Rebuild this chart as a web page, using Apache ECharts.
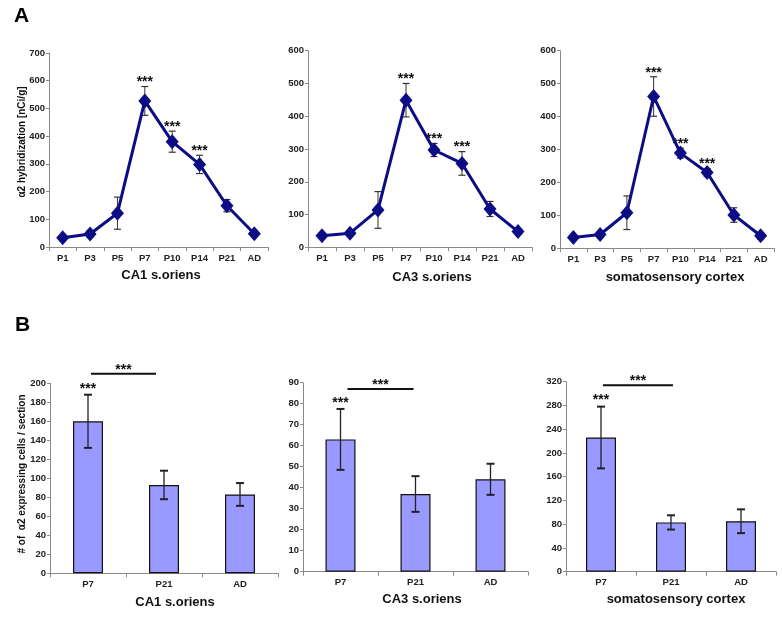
<!DOCTYPE html>
<html><head><meta charset="utf-8">
<script src="https://cdn.jsdelivr.net/npm/echarts@6/dist/echarts.min.js"></script>
<style>html,body{margin:0;padding:0;background:#fff}#c{width:782px;height:617px}</style>
</head><body><div id="c"></div>
<script>
// ---- Panel A data (alpha2 hybridization, nCi/g) ----
const ageCats = ['P1','P3','P5','P7','P10','P14','P21','AD'];
const ca1Hyb = [33, 47, 122, 527, 380, 298, 149, 48];
const ca1HybErr = [10, 12, 58, 52, 38, 33, 22, 10];
const ca3Hyb = [35, 43, 114, 449, 297, 256, 117, 48];
const ca3HybErr = [8, 8, 56, 51, 20, 36, 23, 8];
const ssHyb = [33, 42, 108, 461, 289, 230, 101, 38];
const ssHybErr = [8, 8, 51, 60, 15, 12, 22, 10];
const hybStars = ['', '', '', '***', '***', '***', '', ''];
const hybTicks = {ca1: [0, 700, 100], ca3: [0, 600, 100], ss: [0, 600, 100]};

// ---- Panel B data (alpha2 expressing cells / section) ----
const cellCats = ['P7','P21','AD'];
const ca1Cells = [160, 93, 83];
const ca1CellsErr = [28, 15, 12];
const ca3Cells = [63, 37, 44];
const ca3CellsErr = [14.5, 8.5, 7.4];
const ssCells = [226, 83, 85];
const ssCellsErr = [52, 12, 20];
const cellStars = ['***', '', ''];
const cellTicks = {ca1: [0, 200, 20], ca3: [0, 90, 10], ss: [0, 320, 40]};
const bracketPair = [0, 1];
const bracketText = '***';

const FONT = 'Liberation Sans, Arial, sans-serif';
const NAVY = '#0c0c84';

const grids = [
  {left: 49, top: 53, width: 219, height: 194},
  {left: 308, top: 50.7, width: 224, height: 196.6},
  {left: 560, top: 50.7, width: 214, height: 197.6},
  {left: 50, top: 383.3, width: 228, height: 190},
  {left: 303, top: 382.7, width: 225, height: 189},
  {left: 566, top: 381.7, width: 210, height: 190}
];

function xAx(gi, cats) {
  return {
    type: 'category', gridIndex: gi, data: cats, boundaryGap: true,
    axisLine: {lineStyle: {color: '#8a8a8a', width: 1}},
    axisTick: {show: true, length: 4, lineStyle: {color: '#8a8a8a'}},
    axisLabel: {fontFamily: FONT, fontWeight: 'bold', fontSize: 9.5, color: '#222', margin: 6}
  };
}
function yAx(gi, t) {
  return {
    type: 'value', gridIndex: gi, min: t[0], max: t[1], interval: t[2],
    splitLine: {show: false},
    axisLine: {show: true, lineStyle: {color: '#8a8a8a', width: 1}},
    axisTick: {show: true, length: 3, lineStyle: {color: '#8a8a8a'}},
    axisLabel: {fontFamily: FONT, fontWeight: 'bold', fontSize: 9.5, color: '#222', margin: 4}
  };
}

function errSeries(gi, vals, errs, stars, opt) {
  return {
    type: 'custom', xAxisIndex: gi, yAxisIndex: gi, z: opt.z, silent: true,
    data: vals.map((v, i) => [i, v - errs[i], v + errs[i]]),
    renderItem: function (params, api) {
      const lo = api.coord([api.value(0), api.value(1)]);
      const hi = api.coord([api.value(0), api.value(2)]);
      const h = opt.cap / 2;
      const st = {stroke: opt.color, lineWidth: opt.lw};
      const ch = [
        {type: 'line', shape: {x1: lo[0], y1: lo[1], x2: hi[0], y2: hi[1]}, style: st},
        {type: 'line', shape: {x1: hi[0] - h, y1: hi[1], x2: hi[0] + h, y2: hi[1]}, style: {stroke: opt.color, lineWidth: opt.capLw}},
        {type: 'line', shape: {x1: lo[0] - h, y1: lo[1], x2: lo[0] + h, y2: lo[1]}, style: {stroke: opt.color, lineWidth: opt.capLw}}
      ];
      const s = stars[params.dataIndex];
      if (s) {
        ch.push({type: 'text', style: {text: s, x: hi[0], y: hi[1] + opt.starGap, align: 'center', verticalAlign: 'bottom',
          font: 'bold 14px ' + FONT, fill: '#111'}});
      }
      return {type: 'group', children: ch};
    }
  };
}

function bracketSeries(gi, level, dx1, dx2) {
  return {
    type: 'custom', xAxisIndex: gi, yAxisIndex: gi, z: 5, silent: true,
    data: [[bracketPair[0], bracketPair[1], level]],
    renderItem: function (params, api) {
      const a = api.coord([api.value(0), api.value(2)]);
      const b = api.coord([api.value(1), api.value(2)]);
      const x1 = a[0] + dx1, x2 = b[0] + dx2;
      return {type: 'group', children: [
        {type: 'line', shape: {x1: x1, y1: a[1], x2: x2, y2: a[1]}, style: {stroke: '#111', lineWidth: 2}},
        {type: 'text', style: {text: bracketText, x: (x1 + x2) / 2, y: a[1] + 3, align: 'center', verticalAlign: 'bottom',
          font: 'bold 14px ' + FONT, fill: '#111'}}
      ]};
    }
  };
}

function lineSeries(gi, vals) {
  return {
    type: 'line', xAxisIndex: gi, yAxisIndex: gi, data: vals, z: 3,
    symbol: 'diamond', symbolSize: [13, 15],
    lineStyle: {color: NAVY, width: 3}, itemStyle: {color: NAVY},
    animation: false
  };
}
function barSeries(gi, vals) {
  return {
    type: 'bar', xAxisIndex: gi, yAxisIndex: gi, data: vals, barWidth: 30, z: 2,
    itemStyle: {color: '#9999ff', borderColor: '#111', borderWidth: 1.2},
    animation: false
  };
}

const lineErr = {color: '#333', lw: 1, capLw: 1.2, cap: 7, z: 2, starGap: 3};
const barErr = {color: '#222', lw: 1.3, capLw: 2, cap: 8, z: 4, starGap: 1};

const option = {
  backgroundColor: '#fff',
  animation: false,
  grid: grids,
  xAxis: [xAx(0, ageCats), xAx(1, ageCats), xAx(2, ageCats), xAx(3, cellCats), xAx(4, cellCats), xAx(5, cellCats)],
  yAxis: [yAx(0, hybTicks.ca1), yAx(1, hybTicks.ca3), yAx(2, hybTicks.ss), yAx(3, cellTicks.ca1), yAx(4, cellTicks.ca3), yAx(5, cellTicks.ss)],
  series: [
    errSeries(0, ca1Hyb, ca1HybErr, hybStars, lineErr), lineSeries(0, ca1Hyb),
    errSeries(1, ca3Hyb, ca3HybErr, hybStars, lineErr), lineSeries(1, ca3Hyb),
    errSeries(2, ssHyb, ssHybErr, hybStars, lineErr), lineSeries(2, ssHyb),
    barSeries(3, ca1Cells), errSeries(3, ca1Cells, ca1CellsErr, cellStars, barErr), bracketSeries(3, 210, 3, -8),
    barSeries(4, ca3Cells), errSeries(4, ca3Cells, ca3CellsErr, cellStars, barErr), bracketSeries(4, 87, 7, -2),
    barSeries(5, ssCells), errSeries(5, ssCells, ssCellsErr, cellStars, barErr), bracketSeries(5, 314, 2, 2)
  ],
  graphic: [
    {type: 'text', left: 14, top: 6, style: {text: 'A', font: 'bold 21px ' + FONT, fill: '#000'}},
    {type: 'text', left: 15, top: 315, style: {text: 'B', font: 'bold 21px ' + FONT, fill: '#000'}},
    {type: 'text', x: 22, y: 142, rotation: Math.PI / 2, style: {text: 'α2 hybridization [nCi/g]', align: 'center', verticalAlign: 'middle', font: 'bold 10px ' + FONT, fill: '#111'}},
    {type: 'text', x: 22, y: 474, rotation: Math.PI / 2, style: {text: '# of  α2 expressing cells / section', align: 'center', verticalAlign: 'middle', font: 'bold 10px ' + FONT, fill: '#111'}},
    {type: 'text', x: 161, y: 275, style: {text: 'CA1 s.oriens', align: 'center', verticalAlign: 'middle', font: 'bold 13px ' + FONT, fill: '#111'}},
    {type: 'text', x: 432, y: 277, style: {text: 'CA3 s.oriens', align: 'center', verticalAlign: 'middle', font: 'bold 13px ' + FONT, fill: '#111'}},
    {type: 'text', x: 675, y: 277, style: {text: 'somatosensory cortex', align: 'center', verticalAlign: 'middle', font: 'bold 13px ' + FONT, fill: '#111'}},
    {type: 'text', x: 175, y: 602, style: {text: 'CA1 s.oriens', align: 'center', verticalAlign: 'middle', font: 'bold 13px ' + FONT, fill: '#111'}},
    {type: 'text', x: 422, y: 599, style: {text: 'CA3 s.oriens', align: 'center', verticalAlign: 'middle', font: 'bold 13px ' + FONT, fill: '#111'}},
    {type: 'text', x: 676, y: 599, style: {text: 'somatosensory cortex', align: 'center', verticalAlign: 'middle', font: 'bold 13px ' + FONT, fill: '#111'}}
  ]
};
const chart = echarts.init(document.getElementById('c'), null, {renderer: 'canvas'});
chart.setOption(option);
</script>
</body></html>
